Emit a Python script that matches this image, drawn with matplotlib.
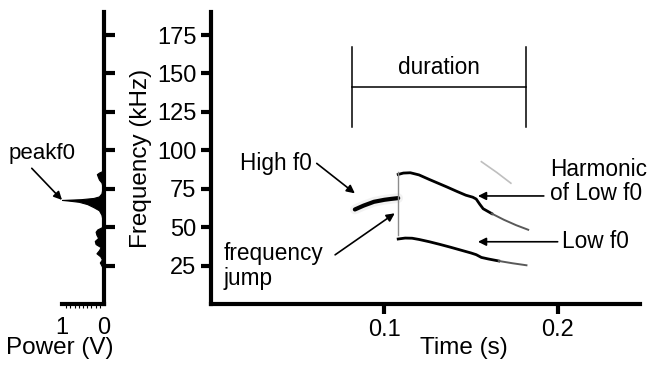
import numpy as np
import matplotlib.pyplot as plt
from matplotlib.ticker import MultipleLocator

plt.rcParams["font.family"] = ["Liberation Sans", "DejaVu Sans"]

# ---- data ----
# power spectrum (left panel)
spec_freq = [22, 25, 27, 29, 31, 33, 35, 37, 39, 41, 43, 45, 47, 48.5, 50, 54, 58, 61, 63,
             65, 66.5, 67.3, 67.7, 68.2, 69, 70, 72, 76, 79, 81, 83, 84.5, 85.5, 86.5, 90, 190]
spec_power = [0, 0.06, 0.1, 0.05, 0.09, 0.18, 0.12, 0.08, 0.2, 0.22, 0.14, 0.18, 0.2, 0.16,
              0.05, 0.03, 0.06, 0.12, 0.25, 0.4, 0.6, 0.85, 1.0, 0.55, 0.25, 0.12, 0.06, 0.03,
              0.06, 0.12, 0.15, 0.17, 0.12, 0.04, 0, 0]

# spectrogram traces (time s, freq kHz)
high_t = [0.083, 0.088, 0.094, 0.100, 0.104, 0.108]
high_f = [61.5, 64.0, 66.5, 67.8, 68.4, 68.9]

harm_t = [0.108, 0.111, 0.115, 0.120, 0.126, 0.131, 0.136, 0.142, 0.147, 0.151, 0.153,
          0.155, 0.157, 0.162, 0.169, 0.176, 0.183]
harm_f = [84.3, 85.2, 85.4, 84.0, 81.0, 78.6, 76.2, 73.2, 70.8, 69.5, 68.3,
          65.0, 62.0, 58.8, 54.8, 51.3, 48.3]

low_t = [0.108, 0.112, 0.116, 0.120, 0.126, 0.132, 0.138, 0.144, 0.150, 0.153, 0.156,
         0.160, 0.166, 0.174, 0.182]
low_f = [42.3, 42.9, 42.8, 42.0, 40.5, 38.8, 37.0, 35.1, 33.2, 32.1, 30.3,
         29.3, 28.0, 26.5, 25.2]

faint_t = [0.156, 0.165, 0.173]
faint_f = [92.6, 85.5, 78.6]

jump_t = 0.108
jump_f = [45, 86]

dur_start, dur_end = 0.0815, 0.182
dur_f, dur_lo, dur_hi = 141, 115, 167

fig = plt.figure(figsize=(6.5, 3.67), dpi=100)
axp = fig.add_axes([62 / 650, 63 / 367, 42 / 650, 292 / 367])
ax = fig.add_axes([211 / 650, 63 / 367, 429 / 650, 292 / 367])

# ---- left: power spectrum ----
axp.fill_betweenx(spec_freq, 0, spec_power, color="black", lw=0.8)
axp.set_xlim(1, 0)
axp.set_ylim(0, 190)
axp.spines["left"].set_visible(False)
axp.spines["top"].set_visible(False)
axp.spines["right"].set_linewidth(3)
axp.spines["bottom"].set_linewidth(3)
axp.yaxis.tick_right()
axp.set_yticks([25, 50, 75, 100, 125, 150, 175])
axp.set_yticklabels([])
axp.tick_params(axis="y", direction="out", length=8, width=3)
axp.set_xticks([1, 0])
axp.set_xticklabels(["1", "0"], fontsize=17)
axp.xaxis.set_minor_locator(MultipleLocator(0.1))
axp.tick_params(axis="x", which="major", length=0, pad=9)
axp.tick_params(axis="x", which="minor", length=3, width=0.8)
axp.set_xlabel("Power (V)", fontsize=17.5)
axp.xaxis.set_label_coords(-0.05, -0.112)
axp.annotate("", xy=(1.0, 67.7), xytext=(1.72, 88.3), annotation_clip=False,
             arrowprops=dict(arrowstyle="-|>", color="black", lw=1.2,
                             shrinkA=0, shrinkB=0, mutation_scale=12))
axp.text(1.48, 98, "peakf0", fontsize=16, ha="center", va="center", clip_on=False)

# ---- right: spectrogram ----
ax.plot(high_t, high_f, color="0.6", lw=7, alpha=0.12, solid_capstyle="round")
ax.plot(high_t, high_f, color="black", lw=3, solid_capstyle="round")
ax.plot(harm_t[:14], harm_f[:14], color="black", lw=2)
ax.plot(harm_t[13:], harm_f[13:], color="0.35", lw=1.4)
ax.plot(low_t[:13], low_f[:13], color="black", lw=2)
ax.plot(low_t[12:], low_f[12:], color="0.35", lw=1.4)
ax.plot(faint_t, faint_f, color="0.75", lw=1.2)
ax.plot([jump_t, jump_t], jump_f, color="0.55", lw=1)

# duration bracket
ax.plot([dur_start, dur_end], [dur_f, dur_f], color="black", lw=1.1)
ax.plot([dur_start, dur_start], [dur_lo, dur_hi], color="black", lw=1.1)
ax.plot([dur_end, dur_end], [dur_lo, dur_hi], color="black", lw=1.1)
ax.text((dur_start + dur_end) / 2, 154, "duration", fontsize=16.3, ha="center", va="center")

arrow = dict(arrowstyle="-|>", color="black", lw=1.2, shrinkA=0, shrinkB=0, mutation_scale=12)
ax.annotate("", xy=(0.083, 72), xytext=(0.061, 91.5), arrowprops=arrow)
ax.text(0.0167, 91.7, "High f0", fontsize=16.3, ha="left", va="center")
ax.annotate("", xy=(0.106, 59), xytext=(0.0716, 32), arrowprops=arrow)
ax.text(0.0075, 24.8, "frequency\njump", fontsize=16.3, ha="left", va="center", linespacing=1.1)
ax.annotate("", xy=(0.154, 70.3), xytext=(0.192, 70.3), arrowprops=arrow)
ax.text(0.1956, 79.7, "Harmonic\nof Low f0", fontsize=16.3, ha="left", va="center", linespacing=1.1)
ax.annotate("", xy=(0.154, 40.5), xytext=(0.200, 40.5), arrowprops=arrow)
ax.text(0.2024, 40.7, "Low f0", fontsize=16.3, ha="left", va="center")

ax.set_xlim(0, 0.2475)
ax.set_ylim(0, 190)
ax.spines["top"].set_visible(False)
ax.spines["right"].set_visible(False)
ax.spines["left"].set_linewidth(3)
ax.spines["bottom"].set_linewidth(3)
ax.set_xticks([0.1, 0.2])
ax.set_xticklabels(["0.1", "0.2"])
ax.set_yticks([25, 50, 75, 100, 125, 150, 175])
ax.tick_params(direction="out", length=7, width=3, labelsize=17)
ax.tick_params(axis="x", pad=4)
ax.tick_params(axis="y", pad=3.5)
ax.set_xlabel("Time (s)", fontsize=17.5)
ax.xaxis.set_label_coords(0.59, -0.112)
ax.set_ylabel("Frequency (kHz)", fontsize=17.5)
ax.yaxis.set_label_coords(-0.137, 0.5)

fig.savefig("out.png", dpi=100)
